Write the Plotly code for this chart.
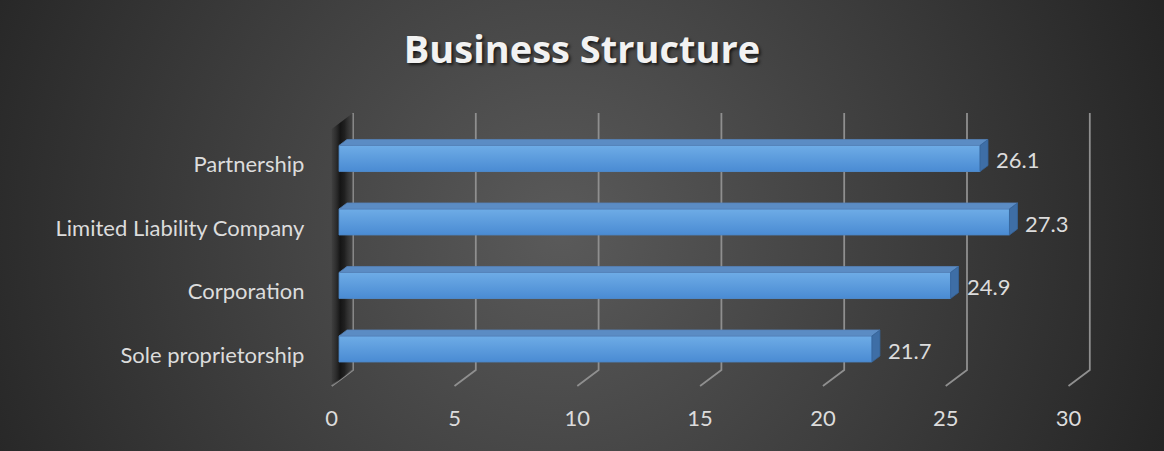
import base64
import plotly.graph_objects as go

# ---------------- data ----------------
categories = ["Sole proprietorship", "Corporation", "Limited Liability Company", "Partnership"]
values = [21.7, 24.9, 27.3, 26.1]
x_ticks = [0, 5, 10, 15, 20, 25, 30]
title_text = "Business Structure"

# ---------------- geometry ----------------
W, H = 1164, 451
PX_X = 24.56          # pixels per value unit (bar front plane)
PX_Y = 63.5           # pixels per category step
X0_PX, Y0_PX = 339, 349
X_RANGE = [-1, 32]
Y_RANGE = [-0.8, 4.0]
dom_x = [(X0_PX + X_RANGE[0] * PX_X) / W, (X0_PX + X_RANGE[1] * PX_X) / W]
dom_y = [1 - (Y0_PX - Y_RANGE[0] * PX_Y) / H, 1 - (Y0_PX - Y_RANGE[1] * PX_Y) / H]

BAR_W = 0.41
DX = 8 / PX_X          # depth offset of bar top / side faces
DY = 6 / PX_Y
G_BACK = 14 / PX_X     # back wall offset of gridlines
G_FRONT = -7.3 / PX_X  # floor front offset of gridlines / tick labels
Y_TOP = (Y0_PX - 113) / PX_Y
Y_BACK_BOT = (Y0_PX - 370) / PX_Y
Y_FRONT_BOT = (Y0_PX - 386) / PX_Y

FONT = "Lato"
TXT = "#dcdcdc"

fig = go.Figure()

# ---------------- background (radial gradient) ----------------
svg = (
    f'<svg xmlns="http://www.w3.org/2000/svg" width="{W}" height="{H}" viewBox="0 0 {W} {H}">'
    '<defs><radialGradient id="g" gradientUnits="userSpaceOnUse" cx="560" cy="230" r="640">'
    '<stop offset="0" stop-color="#5a5a5a"/><stop offset="1" stop-color="#252525"/>'
    '</radialGradient></defs>'
    f'<rect width="{W}" height="{H}" fill="url(#g)"/></svg>'
)
bg_uri = "data:image/svg+xml;base64," + base64.b64encode(svg.encode()).decode()

# ---------------- gridlines (back wall + floor diagonal) ----------------
gx, gy = [], []
for t in x_ticks:
    gx += [t + G_BACK, t + G_BACK, t + G_FRONT, None]
    gy += [Y_TOP, Y_BACK_BOT, Y_FRONT_BOT, None]
fig.add_trace(go.Scatter(x=gx, y=gy, mode="lines", line=dict(color="#8f8f8f", width=1.8),
                         hoverinfo="skip", showlegend=False))

# ---------------- left side wall ----------------
wx = [G_BACK, G_BACK, G_FRONT, G_FRONT, G_BACK]
wy = [Y_TOP, Y_BACK_BOT, Y_FRONT_BOT, Y_FRONT_BOT + (Y_TOP - Y_BACK_BOT), Y_TOP]
fig.add_trace(go.Scatter(
    x=wx, y=wy, mode="lines", line=dict(width=0), fill="toself",
    fillgradient=dict(type="horizontal",
                      colorscale=[[0, "rgba(40,40,40,0.25)"], [0.4, "rgba(15,15,15,0.9)"],
                                  [0.6, "rgba(25,25,25,0.85)"], [1, "rgba(60,60,60,0.4)"]]),
    hoverinfo="skip", showlegend=False))

# ---------------- bars ----------------
ys = list(range(len(categories)))
fig.add_trace(go.Bar(x=values, y=ys, orientation="h", width=BAR_W,
                     marker=dict(color="#5597da", line=dict(width=0)),
                     hoverinfo="x+y", showlegend=False))

for i, v in zip(ys, values):
    top = i + BAR_W / 2
    bot = i - BAR_W / 2
    # front face gradient
    fig.add_trace(go.Scatter(
        x=[0, v, v, 0, 0], y=[bot, bot, top, top, bot], mode="lines",
        line=dict(color="#4c85c4", width=0.8), fill="toself",
        fillgradient=dict(type="vertical", colorscale=[[0, "#4a8bd3"], [1, "#6eace6"]]),
        hoverinfo="skip", showlegend=False))
    # top face
    fig.add_trace(go.Scatter(
        x=[0, DX, v + DX, v, 0], y=[top, top + DY, top + DY, top, top], mode="lines",
        line=dict(color="#5582b8", width=0.8), fill="toself", fillcolor="#5b8cc4",
        hoverinfo="skip", showlegend=False))
    # side face
    fig.add_trace(go.Scatter(
        x=[v, v + DX, v + DX, v, v], y=[top, top + DY, bot + DY, bot, top], mode="lines",
        line=dict(color="#36649a", width=0.8), fill="toself", fillcolor="#3e6ea6",
        hoverinfo="skip", showlegend=False))

# ---------------- data labels ----------------
annotations = []
for i, v in zip(ys, values):
    annotations.append(dict(x=v + DX, y=i, xref="x", yref="y", text=f"{v}", showarrow=False,
                            xanchor="left", yanchor="middle", xshift=6, yshift=-1,
                            font=dict(family=FONT, size=22, color=TXT)))

fig.update_layout(
    width=W, height=H,
    margin=dict(l=0, r=0, t=0, b=0),
    paper_bgcolor="#2b2b2b",
    plot_bgcolor="rgba(0,0,0,0)",
    images=[dict(source=bg_uri, xref="paper", yref="paper", x=0, y=1, sizex=1, sizey=1,
                 xanchor="left", yanchor="top", sizing="stretch", layer="below")],
    title=dict(text=f"<b>{title_text}</b>", x=0.5, xanchor="center", y=1 - 50 / H, yanchor="middle",
               font=dict(family="Open Sans", size=38, color="#f2f2f2",
                         shadow="2px 2px 3px rgba(0,0,0,0.65)")),
    xaxis=dict(domain=dom_x, range=X_RANGE, showgrid=False, zeroline=False, showline=False,
               tickvals=[t + G_FRONT for t in x_ticks], ticktext=[str(t) for t in x_ticks],
               ticks="", ticklabelstandoff=3,
               tickfont=dict(family=FONT, size=22, color=TXT), fixedrange=True),
    yaxis=dict(domain=dom_y, range=Y_RANGE, showgrid=False, zeroline=False, showline=False,
               tickvals=ys, ticktext=categories, ticks="", ticklabelstandoff=9,
               ticklabelshift=6,
               tickfont=dict(family=FONT, size=22, color=TXT), fixedrange=True),
    annotations=annotations,
    bargap=0, barmode="overlay",
)

fig.write_html("out.html")
